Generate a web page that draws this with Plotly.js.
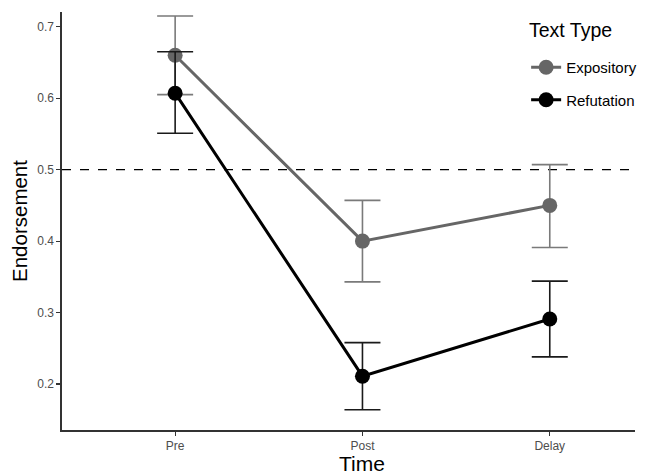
<!DOCTYPE html>
<html>
<head>
<meta charset="utf-8">
<script src="https://cdn.plot.ly/plotly-3.0.1.min.js"></script>
<style>html,body{margin:0;padding:0;background:#fff;}#chart{width:662px;height:475px;}</style>
</head>
<body>
<div id="chart"></div>
<script>
var times = ["Pre", "Post", "Delay"];
var expositoryMean = [0.660, 0.400, 0.450];
var expositoryUpper = [0.715, 0.457, 0.507];
var expositoryLower = [0.605, 0.343, 0.391];
var refutationMean = [0.607, 0.211, 0.291];
var refutationUpper = [0.665, 0.258, 0.344];
var refutationLower = [0.551, 0.164, 0.238];
var referenceLine = 0.5;

function diff(a, b) { return a.map(function (v, i) { return Math.abs(v - b[i]); }); }

var font = "Liberation Sans, Arial, Helvetica, sans-serif";

var traces = [
  {
    x: times, y: expositoryMean, name: "Expository", type: "scatter", mode: "lines+markers",
    legendgroup: "exp",
    line: {color: "#666666", width: 3},
    marker: {color: "#666666", size: 15},
    error_y: {type: "data", symmetric: false, array: diff(expositoryUpper, expositoryMean),
      arrayminus: diff(expositoryMean, expositoryLower), color: "#7a7a7a", thickness: 1.6, width: 18}
  },
  {
    x: times, y: refutationMean, name: "Refutation", type: "scatter", mode: "lines+markers",
    legendgroup: "ref",
    line: {color: "#000000", width: 3},
    marker: {color: "#000000", size: 15},
    error_y: {type: "data", symmetric: false, array: diff(refutationUpper, refutationMean),
      arrayminus: diff(refutationMean, refutationLower), color: "#1a1a1a", thickness: 1.6, width: 18}
  }
];

var layout = {
  width: 662, height: 475,
  margin: {l: 62, r: 27, t: 12, b: 45},
  paper_bgcolor: "#fff", plot_bgcolor: "#fff",
  font: {family: font, color: "#000"},
  showlegend: true,
  legend: {
    x: 0.81, xanchor: "left", y: 0.9066, yanchor: "top",
    font: {size: 15, color: "#000"},
    bgcolor: "rgba(0,0,0,0)", itemwidth: 30, tracegroupgap: 10
  },
  xaxis: {
    type: "category", range: [-0.604, 2.455],
    showgrid: false, zeroline: false,
    showline: true, linecolor: "#333", linewidth: 1.6,
    ticks: "outside", ticklen: 4, tickcolor: "#333", tickwidth: 1.2,
    tickfont: {size: 12, color: "#4d4d4d"}
  },
  yaxis: {
    range: [0.1357, 0.7206],
    tickvals: [0.2, 0.3, 0.4, 0.5, 0.6, 0.7],
    ticktext: ["0.2", "0.3", "0.4", "0.5", "0.6", "0.7"],
    showgrid: false, zeroline: false,
    showline: true, linecolor: "#333", linewidth: 1.6,
    ticks: "outside", ticklen: 4, tickcolor: "#333", tickwidth: 1.2,
    tickfont: {size: 12, color: "#4d4d4d"},
    title: {text: "Endorsement", font: {size: 20.5, color: "#000"}, standoff: 4}
  },
  annotations: [
    {
      text: "Time", xref: "x", x: 1, yref: "paper", y: 0, yanchor: "top", yshift: -20,
      showarrow: false, font: {size: 21, color: "#000"}
    },
    {
      text: "Text Type", xref: "paper", x: 0.8115, xanchor: "left", yref: "paper", y: 0.957,
      yanchor: "middle", showarrow: false, font: {size: 19.5, color: "#000"}
    }
  ],
  shapes: [{
    type: "line", xref: "paper", x0: 0, x1: 1, yref: "y", y0: referenceLine, y1: referenceLine,
    line: {color: "#000", width: 1.3, dash: "dash"}, layer: "below"
  }]
};

Plotly.newPlot("chart", traces, layout, {displayModeBar: false, staticPlot: true});
</script>
</body>
</html>
